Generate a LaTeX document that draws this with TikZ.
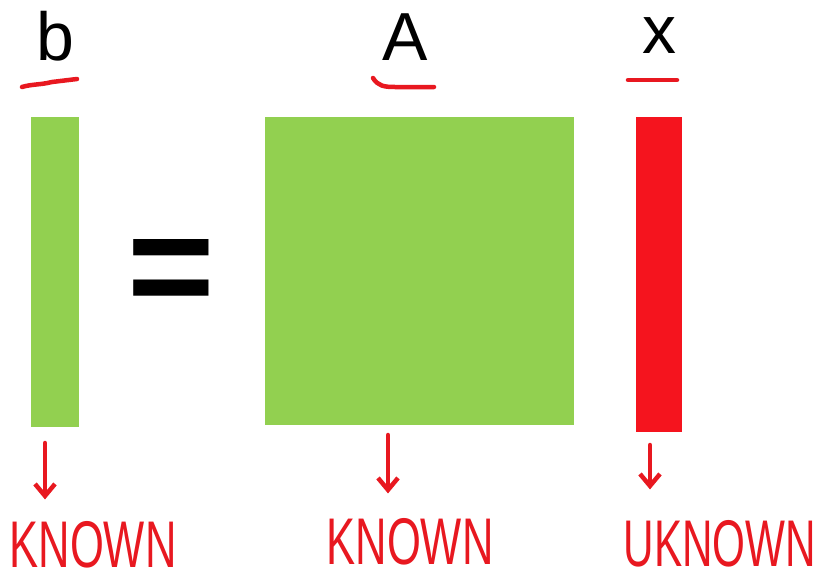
\documentclass[tikz,border=0pt]{standalone}
\usepackage{fontspec}
\setmainfont{Liberation Sans}
\usetikzlibrary{arrows.meta,positioning}
\definecolor{MatGreen}{RGB}{146,208,80}
\definecolor{VecRed}{RGB}{245,20,30}
\definecolor{InkRed}{RGB}{232,24,32}

\begin{document}
\begin{tikzpicture}[
    x=1pt,y=-1pt,
    block/.style={inner sep=0pt, outer sep=0pt, fill=MatGreen},
    symb/.style={anchor=base, inner sep=0pt, text=black, font=\fontsize{68}{68}\selectfont},
    ink/.style={draw=InkRed, line width=4.5pt, line cap=round, line join=round},
    inkarrow/.style={ink, -{Straight Barb[length=12pt,width=20pt]}},
    note/.style={inner sep=0pt, text=InkRed, font=\fontsize{66}{66}\selectfont}
  ]
    \useasboundingbox (0,0) rectangle (823,581);
    \fill[white] (0,0) rectangle (823,581);
    % the three blocks of b = A x
    \node[block, minimum width=48pt, minimum height=310pt] (bvec) at (55,272) {};
    \node[block, minimum width=309pt, minimum height=308pt] (Amat) at (419.5,271) {};
    \node[block, fill=VecRed, minimum width=46pt, minimum height=315pt] (xvec) at (659,274.5) {};
    \node[inner sep=0pt, font=\bfseries\fontsize{150}{150}\selectfont] (eq) at (171.5,278) {=};
    % letters on top
    \node[symb] (blab) at (55,60) {b};
    \node[symb] (Alab) at (405,60) {A};
    \node[symb] (xlab) at (659,53) {x};
    \draw[ink] (22,87) .. controls (32,84) and (40,85) .. (52,82) -- (77,79);
    \draw[ink] (373,78) .. controls (378,86) and (384,87) .. (395,87) -- (434,87);
    \draw[ink] (628,80) -- (677,80);
    % handwritten notes
    \node[note] (bknown) at (93,545) {\scalebox{0.66}[1]{KNOWN}};
    \node[note] (Aknown) at (410,542) {\scalebox{0.66}[1]{KNOWN}};
    \node[note] (xknown) at (720,544) {\scalebox{0.64}[1]{UKNOWN}};
    \coordinate (btail) at ([xshift=-10pt,yshift=-16pt]bvec.south);
    \coordinate (Atail) at ([xshift=-31.5pt,yshift=-10pt]Amat.south);
    \coordinate (xtail) at ([xshift=-9pt,yshift=-13pt]xvec.south);
    \draw[inkarrow, shorten >=22pt] (btail) -- (btail |- bknown.north);
    \draw[inkarrow, shorten >=25pt] (Atail) -- (Atail |- Aknown.north);
    \draw[inkarrow, shorten >=31pt] (xtail) -- (xtail |- xknown.north);
  \end{tikzpicture}
\end{document}
